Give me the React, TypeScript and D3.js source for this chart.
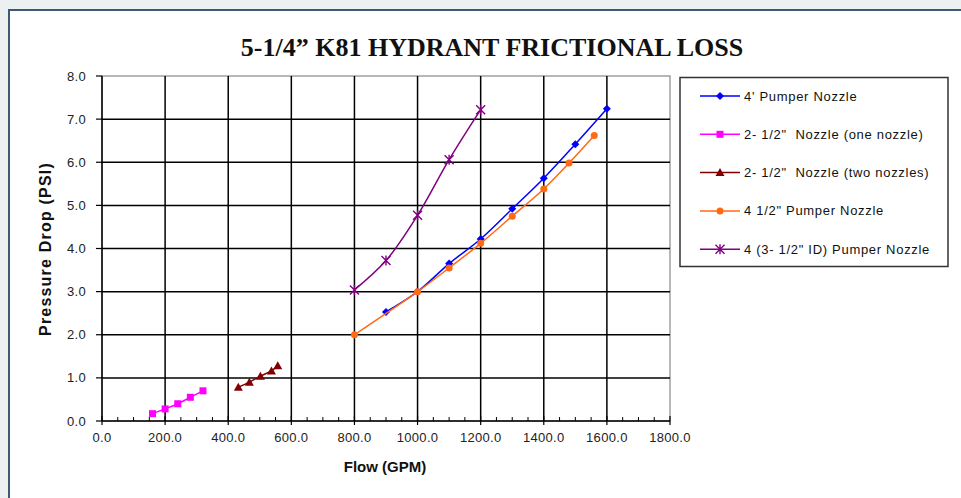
import React from "react";
import * as d3 from "d3";

// flow (GPM) / pressure drop (PSI)
const pumper4Flow = [900, 1000, 1100, 1200, 1300, 1400, 1500, 1600];
const pumper4Psi = [2.53, 3.0, 3.65, 4.22, 4.92, 5.63, 6.42, 7.24];

const oneNozzleFlow = [160, 200, 240, 280, 320];
const oneNozzlePsi = [0.17, 0.28, 0.4, 0.55, 0.7];

const twoNozzleFlow = [432, 467, 502, 537, 557];
const twoNozzlePsi = [0.78, 0.9, 1.04, 1.16, 1.28];

const pumper45Flow = [800, 1000, 1100, 1200, 1300, 1400, 1480, 1560];
const pumper45Psi = [2.0, 3.0, 3.55, 4.12, 4.75, 5.38, 5.98, 6.62];

const pumperIdFlow = [800, 900, 1000, 1100, 1200];
const pumperIdPsi = [3.04, 3.72, 4.77, 6.06, 7.22];

const seriesNames = [
  "4' Pumper Nozzle",
  '2- 1/2"  Nozzle (one nozzle)',
  '2- 1/2"  Nozzle (two nozzles)',
  '4 1/2" Pumper Nozzle',
  '4 (3- 1/2" ID) Pumper Nozzle',
];

const xTicks = [0, 200, 400, 600, 800, 1000, 1200, 1400, 1600, 1800];
const yTicks = [0, 1, 2, 3, 4, 5, 6, 7, 8];

const series = [
  { name: seriesNames[0], flow: pumper4Flow, psi: pumper4Psi, color: "#0000ff", marker: "diamond" },
  { name: seriesNames[1], flow: oneNozzleFlow, psi: oneNozzlePsi, color: "#ff00ff", marker: "square" },
  { name: seriesNames[2], flow: twoNozzleFlow, psi: twoNozzlePsi, color: "#800000", marker: "triangle" },
  { name: seriesNames[3], flow: pumper45Flow, psi: pumper45Psi, color: "#ff6a13", marker: "circle" },
  { name: seriesNames[4], flow: pumperIdFlow, psi: pumperIdPsi, color: "#800080", marker: "star" },
];

const Marker = ({ type, x, y, color }: { type: string; x: number; y: number; color: string }) => {
  if (type === "diamond")
    return <path d={`M${x},${y - 4}L${x + 4},${y}L${x},${y + 4}L${x - 4},${y}Z`} fill={color} />;
  if (type === "square") return <rect x={x - 3.5} y={y - 3.5} width={7} height={7} fill={color} />;
  if (type === "triangle")
    return <path d={`M${x},${y - 4.5}L${x + 4.5},${y + 3.5}L${x - 4.5},${y + 3.5}Z`} fill={color} />;
  if (type === "circle") return <circle cx={x} cy={y} r={3.5} fill={color} />;
  // star: x with a vertical stroke
  return (
    <path
      d={`M${x - 4.5},${y - 4.5}L${x + 4.5},${y + 4.5}M${x + 4.5},${y - 4.5}L${x - 4.5},${y + 4.5}M${x},${y - 5}L${x},${y + 5}`}
      stroke={color}
      strokeWidth={1.4}
    />
  );
};

export default function App() {
  const left = 102, right = 670, top = 76, bottom = 421;
  const x = d3.scaleLinear().domain([0, 1800]).range([left, right]);
  const y = d3.scaleLinear().domain([0, 8]).range([bottom, top]);
  const minor = d3.range(50, 1800, 50).filter((v) => v % 200 !== 0);

  const line = d3
    .line<[number, number]>()
    .x((d) => x(d[0]))
    .y((d) => y(d[1]))
    .curve(d3.curveCatmullRom.alpha(0.5));

  const sans = "'Liberation Sans', Arial, sans-serif";

  return (
    <svg width={961} height={498} style={{ position: "absolute", left: 0, top: 0 }}>
      <rect width={961} height={498} fill="#ecf0f1" />
      <rect x={9} y={10} width={970} height={500} fill="#fff" stroke="#3d5875" strokeWidth={2} />

      <text
        x={492}
        y={56}
        textAnchor="middle"
        fontFamily="'Liberation Serif', 'Times New Roman', serif"
        fontWeight="bold"
        fontSize={26}
        fill="#111"
      >
        5-1/4” K81 HYDRANT FRICTIONAL LOSS
      </text>

      {/* plot frame + grid */}
      <rect x={left} y={top} width={right - left} height={bottom - top} fill="#fff" stroke="#a0a0a0" strokeWidth={1.5} />
      {xTicks.slice(1, -1).map((t) => (
        <line key={"gx" + t} x1={x(t)} x2={x(t)} y1={top} y2={bottom} stroke="#000" strokeWidth={1.5} />
      ))}
      {yTicks.slice(1, -1).map((t) => (
        <line key={"gy" + t} x1={left} x2={right} y1={y(t)} y2={y(t)} stroke="#000" strokeWidth={1.5} />
      ))}

      {/* axes */}
      <line x1={left} x2={left} y1={top} y2={bottom} stroke="#000" strokeWidth={1.5} />
      <line x1={left} x2={right} y1={bottom} y2={bottom} stroke="#000" strokeWidth={1.5} />
      {yTicks.map((t) => (
        <g key={"yt" + t}>
          <line x1={left - 6} x2={left} y1={y(t)} y2={y(t)} stroke="#000" strokeWidth={1.2} />
          <text x={left - 16} y={y(t)} dy="0.35em" textAnchor="end" fontFamily={sans} fontSize={13} letterSpacing={0.3} fill="#222">
            {t.toFixed(1)}
          </text>
        </g>
      ))}
      {xTicks.map((t) => (
        <g key={"xt" + t}>
          <line x1={x(t)} x2={x(t)} y1={bottom - 5} y2={bottom + 4} stroke="#000" strokeWidth={1.2} />
          <text x={x(t)} y={bottom + 21} textAnchor="middle" fontFamily={sans} fontSize={13} letterSpacing={0.3} fill="#222">
            {t.toFixed(1)}
          </text>
        </g>
      ))}
      {minor.map((t) => (
        <line key={"mt" + t} x1={x(t)} x2={x(t)} y1={bottom - 4} y2={bottom} stroke="#000" strokeWidth={1} />
      ))}

      <text
        x={385}
        y={472}
        textAnchor="middle"
        fontFamily={sans}
        fontWeight="bold"
        fontSize={15}
        fill="#111"
      >
        Flow (GPM)
      </text>
      <text
        transform="translate(51,249) rotate(-90)"
        textAnchor="middle"
        fontFamily={sans}
        fontWeight="bold"
        fontSize={16}
        letterSpacing={1.2}
        fill="#111"
      >
        Pressure Drop (PSI)
      </text>

      {/* series */}
      {series.map((s) => {
        const pts = s.flow.map((f, i) => [f, s.psi[i]] as [number, number]);
        return (
          <g key={s.name}>
            <path d={line(pts) || ""} fill="none" stroke={s.color} strokeWidth={1.5} />
            {pts.map((p, i) => (
              <Marker key={i} type={s.marker} x={x(p[0])} y={y(p[1])} color={s.color} />
            ))}
          </g>
        );
      })}

      {/* legend */}
      <rect x={680} y={77.5} width={268} height={189} fill="#fff" stroke="#333" strokeWidth={1.5} />
      {series.map((s, i) => {
        const ly = 96 + i * 38.3;
        return (
          <g key={"lg" + i}>
            <line x1={700} x2={740} y1={ly} y2={ly} stroke={s.color} strokeWidth={1.5} />
            <Marker type={s.marker} x={720} y={ly} color={s.color} />
            <text
              x={744}
              y={ly}
              dy="0.35em"
              fontFamily={sans}
              fontSize={13}
              letterSpacing={0.7}
              fill="#111"
              style={{ whiteSpace: "pre" }}
            >
              {s.name}
            </text>
          </g>
        );
      })}
    </svg>
  );
}
